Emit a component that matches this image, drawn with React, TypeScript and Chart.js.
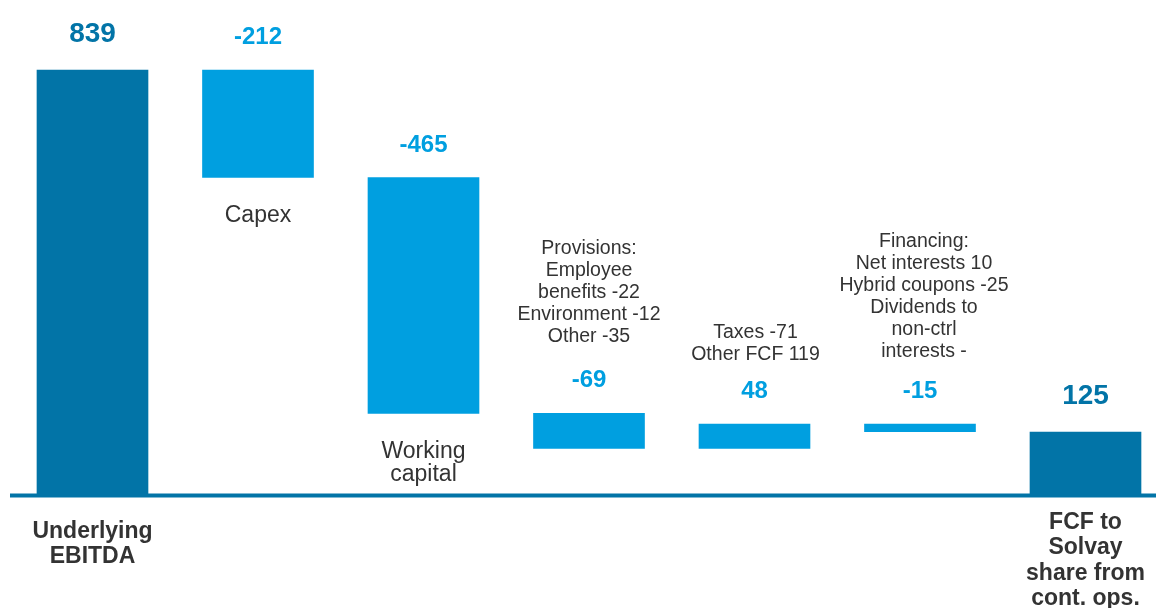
import React, { useEffect, useRef } from "react";
import { Chart, registerables } from "chart.js";

Chart.register(...registerables);

// ---- Data ----
const categoryLabels: string[][] = [
  ["Underlying", "EBITDA"],
  ["Capex"],
  ["Working", "capital"],
  ["Provisions:", "Employee", "benefits -22", "Environment -12", "Other -35"],
  ["Taxes -71", "Other FCF 119"],
  ["Financing:", "Net interests 10", "Hybrid coupons -25", "Dividends to", "non-ctrl", "interests -"],
  ["FCF to", "Solvay", "share from", "cont. ops."],
];
const steps: number[] = [839, -212, -465, -69, 48, -15, 125];
const isTotal: boolean[] = [true, false, false, false, false, false, true];
const valueLabels: string[] = ["839", "-212", "-465", "-69", "48", "-15", "125"];

// ---- Label placement (style) ----
const labelPlacement: string[] = ["axis", "below", "below", "above", "above", "above", "axis"];
const labelDy: number[] = [42.5, 44.5, 44.5, 71, 64, 67, 33.5];
const labelDx: number[] = [0, 0, 0, 0, 1, 4, 0];

const DARK = "#0274a7";
const LIGHT = "#009fe0";
const TEXT = "#333333";
const FONT = "'Liberation Sans', Arial, sans-serif";

// build floating ranges for the waterfall
const ranges: [number, number][] = [];
let running = 0;
steps.forEach((v, i) => {
  if (isTotal[i]) {
    ranges.push([0, v]);
    running = v;
  } else {
    ranges.push([running, running + v]);
    running += v;
  }
});

const waterfallText = {
  id: "waterfallText",
  afterDatasetsDraw(chart: any) {
    const ctx: CanvasRenderingContext2D = chart.ctx;
    const meta = chart.getDatasetMeta(0);
    const y0 = chart.scales.y.getPixelForValue(0);
    ctx.save();
    // baseline axis
    ctx.strokeStyle = DARK;
    ctx.lineWidth = 4;
    ctx.beginPath();
    ctx.moveTo(10, y0);
    ctx.lineTo(chart.width, y0);
    ctx.stroke();

    ctx.textAlign = "center";
    ctx.textBaseline = "alphabetic";
    meta.data.forEach((bar: any, i: number) => {
      const { x, y, base } = bar.getProps(["x", "y", "base"], true);
      const top = Math.min(y, base);
      const bottom = Math.max(y, base);
      // value label
      ctx.fillStyle = isTotal[i] ? DARK : LIGHT;
      ctx.font = isTotal[i] ? `bold 28px ${FONT}` : `bold 24px ${FONT}`;
      ctx.fillText(valueLabels[i], x, top - (isTotal[i] ? 28 : 26));

      const lines = categoryLabels[i];
      const p = labelPlacement[i];
      ctx.fillStyle = TEXT;
      if (p === "axis") {
        ctx.font = `bold 23px ${FONT}`;
        lines.forEach((t, k) => ctx.fillText(t, x + labelDx[i], y0 + labelDy[i] + k * 25.3));
      } else if (p === "below") {
        ctx.font = `23px ${FONT}`;
        lines.forEach((t, k) => ctx.fillText(t, x + labelDx[i], bottom + labelDy[i] + k * 23));
      } else {
        ctx.font = `19.5px ${FONT}`;
        const n = lines.length;
        lines.forEach((t, k) =>
          ctx.fillText(t, x + labelDx[i], top - labelDy[i] - (n - 1 - k) * 22)
        );
      }
    });
    ctx.restore();
  },
};

export default function App() {
  const ref = useRef<HTMLCanvasElement>(null);
  useEffect(() => {
    if (!ref.current) return;
    const chart = new Chart(ref.current, {
      type: "bar",
      data: {
        datasets: [
          {
            data: ranges.map((r, i) => ({ x: i, y: r })) as any,
            backgroundColor: isTotal.map((t) => (t ? DARK : LIGHT)),
            borderWidth: 0,
            borderSkipped: false,
            barThickness: 111,
          },
        ],
      },
      options: {
        animation: false,
        responsive: true,
        maintainAspectRatio: false,
        layout: { padding: 0 },
        plugins: {
          legend: { display: false },
          tooltip: { enabled: false },
        },
        scales: {
          x: {
            type: "linear",
            min: -0.5589,
            max: 6.426,
            offset: false,
            display: false,
            grid: { display: false, offset: false },
          },
          y: {
            type: "linear",
            min: -221.8,
            max: 977,
            display: false,
            grid: { display: false },
          },
        },
      },
      plugins: [waterfallText],
    });
    return () => chart.destroy();
  }, []);
  return (
    <div
      style={{
        position: "fixed",
        left: 0,
        top: 0,
        width: 1156,
        height: 608,
        background: "#ffffff",
      }}
    >
      <canvas ref={ref} />
    </div>
  );
}
